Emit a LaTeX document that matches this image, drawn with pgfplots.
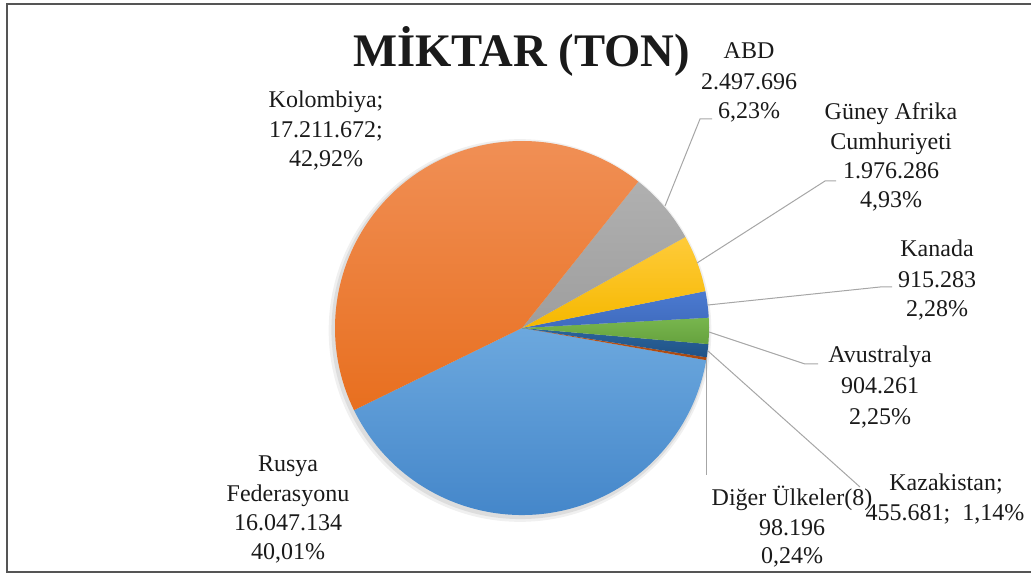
\documentclass[border=0pt]{standalone}
\usepackage{pgfplots}
\pgfplotsset{compat=1.18}
\usepackage{fontspec}
\setmainfont{LiberationSerif}[Extension=.ttf,UprightFont=*-Regular,BoldFont=*-Bold,ItalicFont=*-Italic,BoldItalicFont=*-BoldItalic]
\definecolor{txt}{HTML}{1A1A1A}
\definecolor{lead}{HTML}{A6A6A6}
\definecolor{frame}{HTML}{555555}
\definecolor{rusT}{HTML}{6CA8DE}
\definecolor{rusB}{HTML}{3F82C7}
\definecolor{kolT}{HTML}{F1925A}
\definecolor{kolB}{HTML}{E86F1F}
\definecolor{abdT}{HTML}{B0B0B0}
\definecolor{abdB}{HTML}{9E9E9E}
\definecolor{gunT}{HTML}{FFCB3A}
\definecolor{gunB}{HTML}{F5B800}
\definecolor{kanT}{HTML}{4B7AD0}
\definecolor{kanB}{HTML}{3F6BBE}
\definecolor{avuT}{HTML}{78B64E}
\definecolor{avuB}{HTML}{66A23E}
\definecolor{kazT}{HTML}{2B649C}
\definecolor{kazB}{HTML}{1F5286}
\definecolor{digT}{HTML}{C0561A}
\definecolor{digB}{HTML}{A84810}
% shares in percent (data)
\pgfplotstableread{
name pct
Rusya 40.01
Diger 0.24
Kazakistan 1.14
Avustralya 2.25
Kanada 2.28
Guney 4.93
ABD 6.23
Kolombiya 42.92
}\pietable
\pgfplotstablegetelem{0}{pct}\of\pietable\let\pRus\pgfplotsretval
\pgfplotstablegetelem{1}{pct}\of\pietable\let\pDig\pgfplotsretval
\pgfplotstablegetelem{2}{pct}\of\pietable\let\pKaz\pgfplotsretval
\pgfplotstablegetelem{3}{pct}\of\pietable\let\pAvu\pgfplotsretval
\pgfplotstablegetelem{4}{pct}\of\pietable\let\pKan\pgfplotsretval
\pgfplotstablegetelem{5}{pct}\of\pietable\let\pGun\pgfplotsretval
\pgfplotstablegetelem{6}{pct}\of\pietable\let\pABD\pgfplotsretval
\pgfplotstablegetelem{7}{pct}\of\pietable\let\pKol\pgfplotsretval
\pgfmathsetmacro\aRus{206.06}
\pgfmathsetmacro\aDig{\aRus+3.6*\pRus}
\pgfmathsetmacro\aKaz{\aDig+3.6*\pDig}
\pgfmathsetmacro\aAvu{\aKaz+3.6*\pKaz}
\pgfmathsetmacro\aKan{\aAvu+3.6*\pAvu}
\pgfmathsetmacro\aGun{\aKan+3.6*\pKan}
\pgfmathsetmacro\aABD{\aGun+3.6*\pGun}
\pgfmathsetmacro\aKol{\aABD+3.6*\pABD}
\newcommand\sector[4]{\shade[top color=#1,bottom color=#2] (axis cs:522,247) -- ++(#3:140.25pt) arc[start angle=#3, delta angle={3.6*#4}, radius=140.25pt] -- cycle;}
\newcommand\lbl[3]{\node[anchor=base,text=txt,font=\rmfamily\fontsize{18}{21}\selectfont,inner sep=0pt] at (axis cs:#1,575-#2) {#3};}
\begin{document}
\begin{tikzpicture}
\begin{axis}[x=0.75pt,y=0.75pt,xmin=0,xmax=1031,ymin=0,ymax=575,hide axis,clip=false]
\coordinate (BL) at (axis cs:0,0);
\coordinate (TR) at (axis cs:1031,575);
% frame
\draw[frame,line width=1.5pt] (axis cs:1031,570.8) -- (axis cs:6.7,570.8) -- (axis cs:6.7,3) -- (axis cs:1031,3);
% soft shadow
\fill[black,opacity=0.06] (axis cs:520,244.5) circle[radius=143.5pt];
\fill[black,opacity=0.08] (axis cs:520.5,245) circle[radius=141.8pt];
% sectors
\sector{rusT}{rusB}{\aRus}{\pRus}
\sector{digT}{digB}{\aDig}{\pDig}
\sector{kazT}{kazB}{\aKaz}{\pKaz}
\sector{avuT}{avuB}{\aAvu}{\pAvu}
\sector{kanT}{kanB}{\aKan}{\pKan}
\sector{gunT}{gunB}{\aGun}{\pGun}
\sector{abdT}{abdB}{\aABD}{\pABD}
\sector{kolT}{kolB}{\aKol}{\pKol}
% leader lines
\draw[lead,line width=0.75pt] (axis cs:665,575-206) -- (axis cs:700,575-119) -- (axis cs:712,575-119);
\draw[lead,line width=0.75pt] (axis cs:697,575-263) -- (axis cs:825,575-181) -- (axis cs:836,575-181);
\draw[lead,line width=0.75pt] (axis cs:708,575-305) -- (axis cs:880,575-287) -- (axis cs:892,575-287);
\draw[lead,line width=0.75pt] (axis cs:709,575-332) -- (axis cs:805,575-364) -- (axis cs:818,575-364);
\draw[lead,line width=0.75pt] (axis cs:708,575-351) -- (axis cs:860,575-487);
\draw[lead,line width=0.75pt] (axis cs:706,575-359) -- (axis cs:706,575-475);
% title
\node[anchor=base,text=txt,font=\rmfamily\fontsize{35}{40}\selectfont\bfseries,inner sep=0pt] at (axis cs:521.7,575-66.7) {MİKTAR (TON)};
% labels
\lbl{326}{108}{Kolombiya;}
\lbl{326}{138}{17.211.672;}
\lbl{326}{167}{42,92\%}
\lbl{749}{59}{ABD}
\lbl{749}{90}{2.497.696}
\lbl{749}{119}{6,23\%}
\lbl{891}{120}{Güney Afrika}
\lbl{891}{150}{Cumhuriyeti}
\lbl{891}{179}{1.976.286}
\lbl{891}{208}{4,93\%}
\lbl{937}{257}{Kanada}
\lbl{937}{288}{915.283}
\lbl{937}{317}{2,28\%}
\lbl{880}{363}{Avustralya}
\lbl{880}{394}{904.261}
\lbl{880}{424}{2,25\%}
\lbl{946}{490}{Kazakistan;}
\lbl{945}{520}{455.681;\ \ 1,14\%}
\lbl{792}{505}{Diğer Ülkeler(8)}
\lbl{792}{535}{98.196}
\lbl{792}{563}{0,24\%}
\lbl{288}{471}{Rusya}
\lbl{288}{501}{Federasyonu}
\lbl{288}{530}{16.047.134}
\lbl{288}{559}{40,01\%}
\end{axis}
\pgfresetboundingbox
\useasboundingbox (BL) rectangle (TR);
\end{tikzpicture}
\end{document}
